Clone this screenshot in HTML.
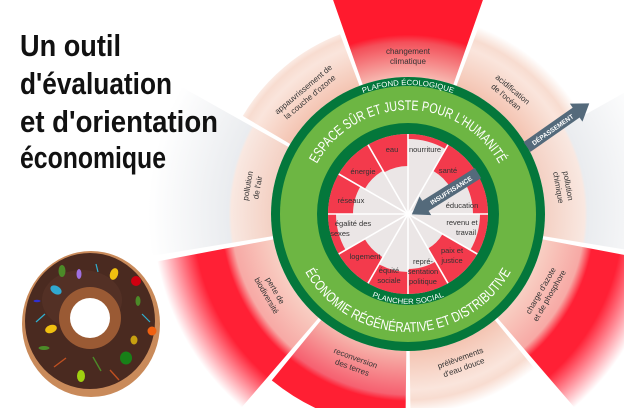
<!DOCTYPE html>
<html><head><meta charset="utf-8"><style>
html,body{margin:0;padding:0;background:#fff;width:624px;height:408px;overflow:hidden;}
#w{position:relative;width:624px;height:408px;overflow:hidden;}
svg{display:block;position:absolute;left:0;top:0;}
</style></head><body><div id="w">
<svg width="624" height="408" viewBox="0 0 624 408" xmlns="http://www.w3.org/2000/svg" font-family="Liberation Sans, DejaVu Sans, sans-serif">
<defs>
<clipPath id="frame"><rect x="0" y="0" width="624" height="408"/></clipPath>
<radialGradient id="pale" gradientUnits="userSpaceOnUse" cx="0" cy="0" r="200">
<stop offset="0.685" stop-color="#f4c4b2"/><stop offset="0.88" stop-color="#fae5dc"/><stop offset="0.93" stop-color="#f8dcd0"/><stop offset="1" stop-color="#fff"/>
</radialGradient>
<radialGradient id="clim" gradientUnits="userSpaceOnUse" cx="0" cy="0" r="260">
<stop offset="0.527" stop-color="#f7b8b0"/><stop offset="0.66" stop-color="#f4505a"/><stop offset="0.69" stop-color="#ff1a2e"/><stop offset="1" stop-color="#ff1a2e"/>
</radialGradient>
<radialGradient id="big" gradientUnits="userSpaceOnUse" cx="0" cy="0" r="290">
<stop offset="0.47" stop-color="#f8cfc3"/><stop offset="0.61" stop-color="#f7a9a5"/><stop offset="0.645" stop-color="#ff2035"/><stop offset="0.74" stop-color="#ff2035"/><stop offset="0.88" stop-color="#fff"/><stop offset="1" stop-color="#fff"/>
</radialGradient>
<radialGradient id="terr" gradientUnits="userSpaceOnUse" cx="0" cy="0" r="215">
<stop offset="0.64" stop-color="#f6b4ab"/><stop offset="0.84" stop-color="#f66070"/><stop offset="0.87" stop-color="#ff1f33"/><stop offset="1" stop-color="#ff1f33"/>
</radialGradient>
<radialGradient id="gray" gradientUnits="userSpaceOnUse" cx="0" cy="0" r="260">
<stop offset="0.527" stop-color="#f4d1c4"/><stop offset="0.68" stop-color="#f9e8e1"/><stop offset="0.69" stop-color="#eaecef"/><stop offset="1" stop-color="#fff"/>
</radialGradient>
<path id="arcTop" d="M 304 214 A 104 104 0 0 1 512 214"/>
<path id="arcBot" d="M 290 214 A 118 118 0 0 0 526 214"/>
<path id="arcPl" d="M 279 214 A 129 129 0 0 1 537 214"/>
<path id="arcSo" d="M 318 214 A 90 90 0 0 0 498 214"/>
</defs>
<g clip-path="url(#frame)">
<g transform="translate(408,214)">
<path transform="rotate(0)" fill="url(#clim)" d="M -45.28,-129.3 L -85.9,-245.4 A 260 260 0 0 1 85.9,-245.4 L 45.28,-129.3 A 137 137 0 0 0 -45.28,-129.3 Z"/>
<path transform="rotate(40)" fill="url(#pale)" d="M -45.28,-129.3 L -66.1,-188.8 A 200 200 0 0 1 66.1,-188.8 L 45.28,-129.3 A 137 137 0 0 0 -45.28,-129.3 Z"/>
<path transform="rotate(80)" fill="url(#gray)" d="M -45.28,-129.3 L -85.9,-245.4 A 260 260 0 0 1 85.9,-245.4 L 45.28,-129.3 A 137 137 0 0 0 -45.28,-129.3 Z"/>
<path transform="rotate(120)" fill="url(#big)" d="M -45.28,-129.3 L -95.8,-273.7 A 290 290 0 0 1 95.8,-273.7 L 45.28,-129.3 A 137 137 0 0 0 -45.28,-129.3 Z"/>
<path transform="rotate(160)" fill="url(#pale)" d="M -45.28,-129.3 L -66.1,-188.8 A 200 200 0 0 1 66.1,-188.8 L 45.28,-129.3 A 137 137 0 0 0 -45.28,-129.3 Z"/>
<path transform="rotate(200)" fill="url(#terr)" d="M -45.28,-129.3 L -71.1,-202.9 A 215 215 0 0 1 71.1,-202.9 L 45.28,-129.3 A 137 137 0 0 0 -45.28,-129.3 Z"/>
<path transform="rotate(240)" fill="url(#big)" d="M -45.28,-129.3 L -95.8,-273.7 A 290 290 0 0 1 95.8,-273.7 L 45.28,-129.3 A 137 137 0 0 0 -45.28,-129.3 Z"/>
<path transform="rotate(280)" fill="url(#gray)" d="M -45.28,-129.3 L -85.9,-245.4 A 260 260 0 0 1 85.9,-245.4 L 45.28,-129.3 A 137 137 0 0 0 -45.28,-129.3 Z"/>
<path transform="rotate(320)" fill="url(#pale)" d="M -45.28,-129.3 L -63.5,-181.3 A 192 192 0 0 1 63.5,-181.3 L 45.28,-129.3 A 137 137 0 0 0 -45.28,-129.3 Z"/>
</g>
</g>

<circle cx="408" cy="214" r="137" fill="#04773b"/>
<circle cx="408" cy="214" r="128" fill="#6db643"/>
<circle cx="408" cy="214" r="91" fill="#04773b"/>
<circle cx="408" cy="214" r="80" fill="#ebe6e6"/>

<g transform="translate(408,214)" fill="#f33a4c">
<path transform="rotate(0)" d="M0,-80 A80,80 0 0 1 40,-69.28 L37.5,-64.95 A75,75 0 0 0 0,-75 Z"/>
<path transform="rotate(30)" d="M0,-80 A80,80 0 0 1 40,-69.28 L25,-43.3 A50,50 0 0 0 0,-50 Z"/>
<path transform="rotate(60)" d="M0,-80 A80,80 0 0 1 40,-69.28 L32.5,-56.3 A65,65 0 0 0 0,-65 Z"/>
<path transform="rotate(90)" d="M0,-80 A80,80 0 0 1 40,-69.28 L36,-62.35 A72,72 0 0 0 0,-72 Z"/>
<path transform="rotate(120)" d="M0,-80 A80,80 0 0 1 40,-69.28 L20,-34.6 A40,40 0 0 0 0,-40 Z"/>
<path transform="rotate(150)" d="M0,-80 A80,80 0 0 1 40,-69.28 L27.5,-47.63 A55,55 0 0 0 0,-55 Z"/>
<path transform="rotate(180)" d="M0,-80 A80,80 0 0 1 40,-69.28 L29,-50.2 A58,58 0 0 0 0,-58 Z"/>
<path transform="rotate(210)" d="M0,-80 A80,80 0 0 1 40,-69.28 L25,-43.3 A50,50 0 0 0 0,-50 Z"/>
<path transform="rotate(240)" d="M0,-80 A80,80 0 0 1 40,-69.28 L36,-62.35 A72,72 0 0 0 0,-72 Z"/>
<path transform="rotate(270)" d="M0,-80 A80,80 0 0 1 40,-69.28 L27.5,-47.63 A55,55 0 0 0 0,-55 Z"/>
<path transform="rotate(300)" d="M0,-80 A80,80 0 0 1 40,-69.28 L25,-43.3 A50,50 0 0 0 0,-50 Z"/>
<path transform="rotate(330)" d="M0,-80 A80,80 0 0 1 40,-69.28 L24,-41.6 A48,48 0 0 0 0,-48 Z"/>
</g>
<g transform="translate(408,214)" stroke="#fff" stroke-width="1.6">
<line x1="0" y1="0" x2="0" y2="-80"/>
<line x1="0" y1="0" x2="40" y2="-69.3"/>
<line x1="0" y1="0" x2="69.3" y2="-40"/>
<line x1="0" y1="0" x2="80" y2="0"/>
<line x1="0" y1="0" x2="69.3" y2="40"/>
<line x1="0" y1="0" x2="40" y2="69.3"/>
<line x1="0" y1="0" x2="0" y2="80"/>
<line x1="0" y1="0" x2="-40" y2="69.3"/>
<line x1="0" y1="0" x2="-69.3" y2="40"/>
<line x1="0" y1="0" x2="-80" y2="0"/>
<line x1="0" y1="0" x2="-69.3" y2="-40"/>
<line x1="0" y1="0" x2="-40" y2="-69.3"/>
</g>

<g font-size="7.5" fill="#333" text-anchor="middle">
<text x="392" y="152">eau</text>
<text x="425" y="152">nourriture</text>
<text x="448" y="173">santé</text>
<text x="462" y="208">éducation</text>
<text x="462" y="225">revenu et</text><text x="466" y="235">travail</text>
<text x="452" y="253">paix et</text><text x="452" y="263">justice</text>
<text x="423" y="264">repré-</text><text x="423" y="274">sentation</text><text x="423" y="284">politique</text>
<text x="389" y="273">équité</text><text x="389" y="283">sociale</text>
<text x="365" y="259">logement</text>
<text x="353" y="226">égalité des</text><text x="340" y="236">sexes</text>
<text x="351" y="203">réseaux</text>
<text x="363" y="174">énergie</text>
</g>

<text font-size="14" fill="#fff" text-anchor="middle"><textPath href="#arcTop" startOffset="50%" textLength="222" lengthAdjust="spacingAndGlyphs">ESPACE SÛR ET JUSTE POUR L'HUMANITÉ</textPath></text>
<text font-size="14" fill="#fff" text-anchor="middle"><textPath href="#arcBot" startOffset="50%" textLength="250" lengthAdjust="spacingAndGlyphs">ÉCONOMIE RÉGÉNÉRATIVE ET DISTRIBUTIVE</textPath></text>
<text font-size="7.5" fill="#fff" text-anchor="middle"><textPath href="#arcPl" startOffset="50%" textLength="92" lengthAdjust="spacingAndGlyphs">PLAFOND ÉCOLOGIQUE</textPath></text>
<text font-size="7.5" fill="#fff" text-anchor="middle"><textPath href="#arcSo" startOffset="50%" textLength="74" lengthAdjust="spacingAndGlyphs">PLANCHER SOCIAL</textPath></text>

<g font-size="8" fill="#333" text-anchor="middle">
<g transform="rotate(0,408,56)"><text x="408" y="54">changement</text><text x="408" y="64">climatique</text></g>
<g transform="rotate(40,509.6,93)"><text x="509.6" y="91">acidification</text><text x="509.6" y="101">de l'océan</text></g>
<g transform="rotate(80,563.6,186.6)"><text x="563.6" y="184.6">pollution</text><text x="563.6" y="194.6">chimique</text></g>
<g transform="rotate(-60,544.8,293)"><text x="544.8" y="291">charge d'azote</text><text x="544.8" y="301">et de phosphore</text></g>
<g transform="rotate(-20,462,362.5)"><text x="462" y="360.5">prélèvements</text><text x="462" y="370.5">d'eau douce</text></g>
<g transform="rotate(20,354,362.5)"><text x="354" y="360.5">reconversion</text><text x="354" y="370.5">des terres</text></g>
<g transform="rotate(60,271.2,293)"><text x="271.2" y="291">perte de</text><text x="271.2" y="301">biodiversité</text></g>
<g transform="rotate(-80,252.4,186.6)"><text x="252.4" y="184.6">pollution</text><text x="252.4" y="194.6">de l'air</text></g>
<g transform="rotate(-40,306.4,93)"><text x="306.4" y="91">appauvrissement de</text><text x="306.4" y="101">la couche d'ozone</text></g>
</g>

<g transform="translate(527,147) rotate(-35)">
<rect x="0" y="-6" width="62" height="12" fill="#546a7b"/>
<polygon points="60,-11 76,0 60,11" fill="#546a7b"/>
<text x="31" y="2.8" font-size="6.5" font-weight="bold" fill="#fff" text-anchor="middle">DÉPASSEMENT</text>
</g>
<g transform="translate(478,173) rotate(148)">
<rect x="0" y="-6" width="64" height="12" fill="#546a7b"/>
<polygon points="62,-11 78,0 62,11" fill="#546a7b"/>
<text x="32" y="2.8" font-size="6.5" font-weight="bold" fill="#fff" text-anchor="middle" transform="rotate(180,32,0)">INSUFFISANCE</text>
</g>

<g font-family="Liberation Sans Narrow, Liberation Sans, sans-serif" font-size="31" font-weight="bold" fill="#111">
<text x="20" y="56" textLength="101" lengthAdjust="spacingAndGlyphs">Un outil</text>
<text x="20" y="94" textLength="152" lengthAdjust="spacingAndGlyphs">d'évaluation</text>
<text x="20" y="132" textLength="198" lengthAdjust="spacingAndGlyphs">et d'orientation</text>
<text x="20" y="168" textLength="146" lengthAdjust="spacingAndGlyphs">économique</text>
</g>

<ellipse cx="91" cy="324" rx="69" ry="73" fill="#c98a5a"/>
<ellipse cx="90" cy="321" rx="65" ry="68" fill="#4a2a20"/>
<ellipse cx="82" cy="300" rx="40" ry="30" fill="#5a362a" opacity="0.6"/>
<circle cx="90" cy="318" r="31" fill="#9a5a34"/>
<circle cx="90" cy="318" r="20" fill="#fff"/>
<g>
<ellipse cx="62" cy="271" rx="3.5" ry="6" fill="#4c8a28"/>
<ellipse cx="79" cy="274" rx="2.5" ry="5" fill="#a070e0"/>
<line x1="96" y1="264" x2="98" y2="272" stroke="#30b0d0" stroke-width="1.2"/>
<ellipse cx="114" cy="274" rx="4" ry="6" fill="#f0c010" transform="rotate(20,114,274)"/>
<circle cx="136" cy="281" r="5" fill="#d00010"/>
<ellipse cx="56" cy="290" rx="6" ry="4" fill="#30a8d0" transform="rotate(30,56,290)"/>
<ellipse cx="138" cy="301" rx="2.5" ry="5" fill="#4c8a28"/>
<ellipse cx="37" cy="301" rx="3.5" ry="1.3" fill="#3030d0"/>
<line x1="36" y1="322" x2="45" y2="314" stroke="#30b0d0" stroke-width="1.2"/>
<ellipse cx="51" cy="329" rx="6" ry="4" fill="#f0c010" transform="rotate(-20,51,329)"/>
<line x1="142" y1="314" x2="150" y2="322" stroke="#30b0d0" stroke-width="1.2"/>
<circle cx="152" cy="331" r="4.5" fill="#f06010"/>
<ellipse cx="134" cy="340" rx="3.5" ry="4.5" fill="#c8a010"/>
<ellipse cx="44" cy="348" rx="5.5" ry="2" fill="#4c8a28"/>
<ellipse cx="126" cy="358" rx="6" ry="6.5" fill="#188018"/>
<line x1="54" y1="367" x2="66" y2="358" stroke="#c05020" stroke-width="1.4"/>
<line x1="93" y1="357" x2="101" y2="371" stroke="#4c8a28" stroke-width="1.4"/>
<ellipse cx="81" cy="376" rx="4" ry="6" fill="#a0d010"/>
<line x1="110" y1="370" x2="119" y2="380" stroke="#c05020" stroke-width="1.4"/>
</g>
</svg>
</div></body></html>
